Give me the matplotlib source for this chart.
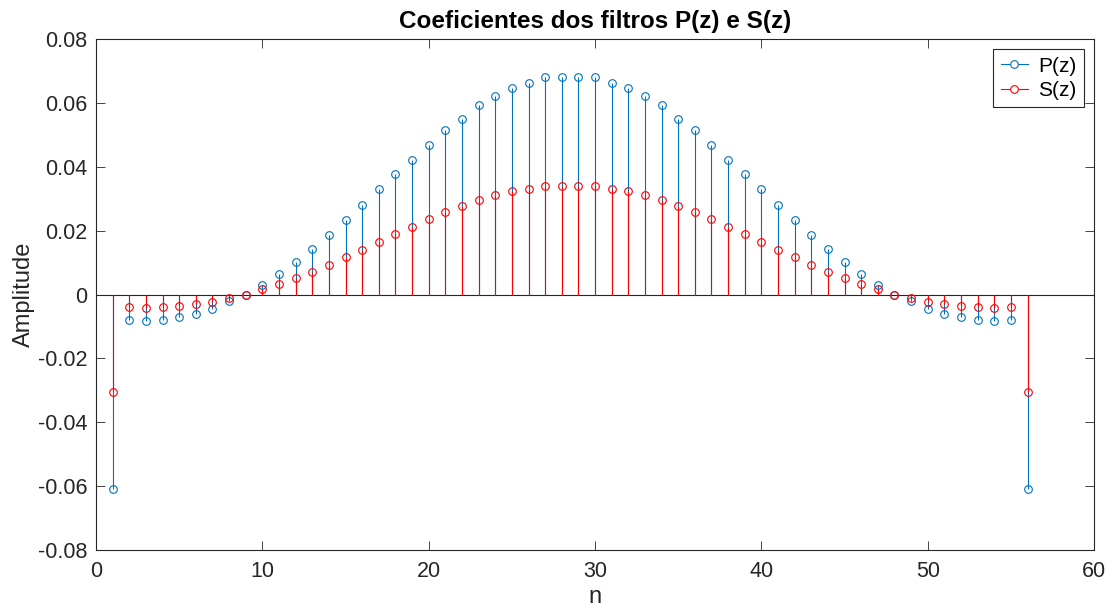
import numpy as np
import matplotlib
matplotlib.use("Agg")
import matplotlib.pyplot as plt
from matplotlib.lines import Line2D
from matplotlib.legend_handler import HandlerLine2D

plt.rcParams['font.family'] = ['Liberation Sans', 'DejaVu Sans']
plt.rcParams['axes.unicode_minus'] = False

# coeficientes dos filtros (n = 1..56)
n = np.arange(1, 57)
p_coef = [-0.0608, -0.0079, -0.0083, -0.0079, -0.0071, -0.0060, -0.0045, -0.0020,
          0.0000, 0.0031, 0.0065, 0.0101, 0.0141, 0.0185, 0.0232, 0.0280,
          0.0329, 0.0376, 0.0422, 0.0469, 0.0514, 0.0551, 0.0592, 0.0621,
          0.0645, 0.0661, 0.0682, 0.0682, 0.0682, 0.0682, 0.0661, 0.0645,
          0.0621, 0.0592, 0.0551, 0.0514, 0.0469, 0.0422, 0.0376, 0.0329,
          0.0280, 0.0232, 0.0185, 0.0141, 0.0101, 0.0065, 0.0031, 0.0000,
          -0.0020, -0.0045, -0.0060, -0.0071, -0.0079, -0.0083, -0.0079, -0.0608]
s_coef = [-0.0305, -0.0040, -0.0042, -0.0040, -0.0035, -0.0030, -0.0023, -0.0011,
          0.0000, 0.0016, 0.0033, 0.0051, 0.0071, 0.0093, 0.0116, 0.0140,
          0.0165, 0.0188, 0.0211, 0.0235, 0.0257, 0.0276, 0.0296, 0.0311,
          0.0323, 0.0331, 0.0341, 0.0341, 0.0341, 0.0341, 0.0331, 0.0323,
          0.0311, 0.0296, 0.0276, 0.0257, 0.0235, 0.0211, 0.0188, 0.0165,
          0.0140, 0.0116, 0.0093, 0.0071, 0.0051, 0.0033, 0.0016, 0.0000,
          -0.0011, -0.0023, -0.0030, -0.0035, -0.0040, -0.0042, -0.0040, -0.0305]

azul = '#0072BD'
vermelho = '#FF0000'
cinza = '#262626'

fig = plt.figure(figsize=(11.14, 6.16), dpi=100)
ax = fig.add_axes([0.0862, 0.1071, 0.8959, 0.8296])

ax.axhline(0, color=cinza, lw=0.8, zorder=1)
for y, cor in [(p_coef, azul), (s_coef, vermelho)]:
    ml, sl, bl = ax.stem(n, y, basefmt=' ')
    sl.set_color(cor)
    sl.set_linewidth(0.8)
    ml.set_color(cor)
    ml.set_marker('o')
    ml.set_markerfacecolor('none')
    ml.set_markersize(5.5)
    ml.set_markeredgewidth(0.8)

ax.set_xlim(0, 60)
ax.set_ylim(-0.08, 0.08)
ax.set_xticks(np.arange(0, 61, 10))
yt = np.arange(-0.08, 0.081, 0.02)
ax.set_yticks(yt)
ax.set_yticklabels(['0' if abs(v) < 1e-9 else '%g' % round(v, 2) for v in yt])
ax.tick_params(direction='in', length=6.5, width=0.6, labelsize=15.5, colors=cinza,
               top=True, right=True)
ax.tick_params(axis='x', pad=8)
ax.tick_params(axis='y', pad=6)
for sp in ax.spines.values():
    sp.set_color(cinza)
    sp.set_linewidth(0.8)

ax.set_title('Coeficientes dos filtros P(z) e S(z)', fontsize=17.5, fontweight='bold', pad=8)
ax.set_xlabel('n', fontsize=17, color=cinza, labelpad=3)
ax.set_ylabel('Amplitude', fontsize=17, color=cinza, labelpad=2)


class HandlerPontaFinal(HandlerLine2D):
    # marcador na ponta direita da linha, como no stem
    def get_xdata(self, legend, xdescent, ydescent, width, height, fontsize):
        xdata = [-xdescent, -xdescent + width]
        return xdata, [-xdescent + width]


h_p = Line2D([], [], color=azul, lw=0.8, marker='o', mfc='white', ms=5.5, mew=0.8)
h_s = Line2D([], [], color=vermelho, lw=0.8, marker='o', mfc='white', ms=5.5, mew=0.8)
leg = ax.legend([h_p, h_s], ['P(z)', 'S(z)'], loc='upper right', fontsize=15,
                numpoints=1, handlelength=1.3, handletextpad=0.5, labelspacing=0.25,
                borderaxespad=0.5, borderpad=0.35, fancybox=False, framealpha=1,
                handler_map={Line2D: HandlerPontaFinal()})
leg.get_frame().set_edgecolor(cinza)
leg.get_frame().set_linewidth(0.8)

plt.savefig('out.png', dpi=100)
